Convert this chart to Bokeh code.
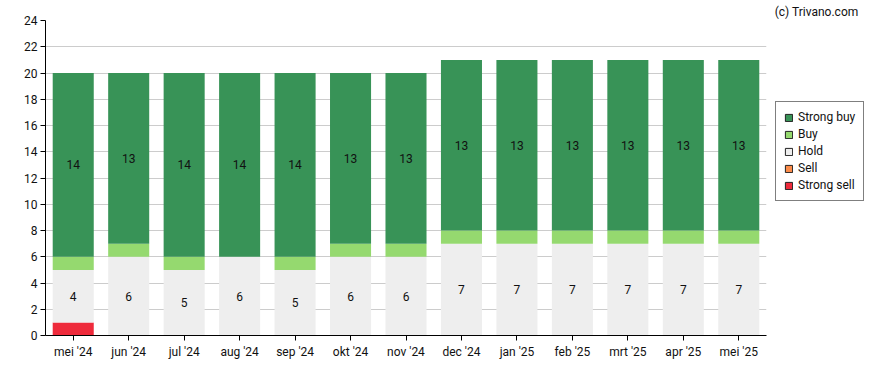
from bokeh.plotting import figure
from bokeh.models import ColumnDataSource, Legend, LegendItem, Title, Range1d, FixedTicker
from bokeh.core.properties import value
from bokeh.embed import file_html
from bokeh.resources import INLINE

months = ["mei '24", "jun '24", "jul '24", "aug '24", "sep '24", "okt '24", "nov '24",
          "dec '24", "jan '25", "feb '25", "mrt '25", "apr '25", "mei '25"]
strong_sell = [1, 0, 0, 0, 0, 0, 0, 0, 0, 0, 0, 0, 0]
sell = [0, 0, 0, 0, 0, 0, 0, 0, 0, 0, 0, 0, 0]
hold = [4, 6, 5, 6, 5, 6, 6, 7, 7, 7, 7, 7, 7]
buy = [1, 1, 1, 0, 1, 1, 1, 1, 1, 1, 1, 1, 1]
strong_buy = [14, 13, 14, 14, 14, 13, 13, 13, 13, 13, 13, 13, 13]
y_ticks = list(range(0, 25, 2))

series = ["strong_sell", "sell", "hold", "buy", "strong_buy"]
names = {"strong_sell": "Strong sell", "sell": "Sell", "hold": "Hold", "buy": "Buy", "strong_buy": "Strong buy"}
colors = {"strong_sell": "#ee2a3b", "sell": "#fc8c4a", "hold": "#eeeeee", "buy": "#95d96f", "strong_buy": "#389357"}

data = dict(months=months, strong_sell=strong_sell, sell=sell, hold=hold, buy=buy, strong_buy=strong_buy)
src = ColumnDataSource(data)

FONT = "Roboto"

p = figure(x_range=months, y_range=Range1d(0, 24), width=880, height=362,
           output_backend="svg", toolbar_location=None,
           min_border_left=45, min_border_right=114, min_border_top=20, min_border_bottom=27)
p.frame_width = 721
p.frame_height = 315
p.outline_line_color = None
p.background_fill_color = "white"

p.vbar_stack(series, x="months", width=0.74, source=src,
             color=[colors[s] for s in series], line_color=None)

# value labels
lx, ly, lt = [], [], []
for i, m in enumerate(months):
    base = 0
    for s in series:
        v = data[s][i]
        if v > 1:
            lx.append(m)
            ly.append(base + v / 2)
            lt.append(str(v))
        base += v
p.text(x=lx, y=ly, text=lt, text_align="center", text_baseline="middle",
       text_font=value(FONT), text_font_size="12px", text_color="#111111")

# axes
p.yaxis.ticker = FixedTicker(ticks=y_ticks)
for ax in (p.xaxis[0], p.yaxis[0]):
    ax.axis_line_color = "black"
    ax.axis_line_width = 1
    ax.major_tick_line_color = "black"
    ax.major_tick_out = 5
    ax.major_tick_in = 0
    ax.minor_tick_line_color = None
    ax.major_label_text_font = FONT
    ax.major_label_text_font_size = "12px"
    ax.major_label_text_color = "#111111"
p.xaxis.major_label_standoff = 4
p.yaxis.major_label_standoff = 3
p.xgrid.grid_line_color = None
p.ygrid.grid_line_color = "#cccccc"
p.ygrid.grid_line_width = 1

# legend with outlined square glyphs (hidden proxy bars below the visible range)
items = []
for s in reversed(series):
    r = p.vbar(x=[months[0]], top=[-9], bottom=[-10], width=0.1,
               fill_color=colors[s], line_color="#222222", line_width=1)
    items.append(LegendItem(label=names[s], renderers=[r]))
legend = Legend(items=items, location=(9, 134), orientation="vertical",
                label_text_font=FONT, label_text_font_size="12px", label_text_color="#111111",
                glyph_width=9, glyph_height=9, label_height=14, spacing=3,
                padding=8, margin=0, label_standoff=5,
                border_line_color="black", border_line_width=1, background_fill_alpha=1)
p.add_layout(legend, "right")

p.add_layout(Title(text="(c) Trivano.com", align="right", offset=-92, standoff=4,
                   text_font=FONT, text_font_size="12px", text_font_style="normal",
                   text_color="#111111"), "above")

open("out.html", "w").write(file_html(p, INLINE))
